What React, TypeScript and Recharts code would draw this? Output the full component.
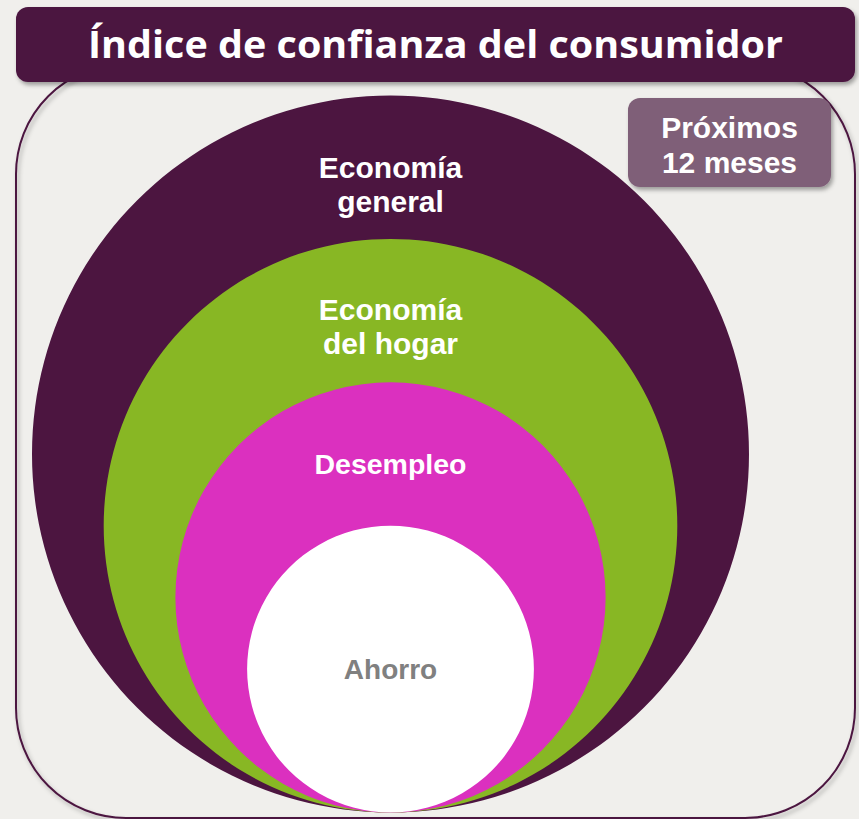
import { Pie, PieChart } from "recharts";

// nested circles, outermost first
const CIRCLE_NAMES = ["Economía general", "Economía del hogar", "Desempleo", "Ahorro"];
const CIRCLE_LINES = [["Economía", "general"], ["Economía", "del hogar"], ["Desempleo"], ["Ahorro"]];
// radius relative to the outer circle (%)
const CIRCLE_SIZES = [100, 80, 60, 40];

const TITLE = "Índice de confianza del consumidor";
const HORIZON_LINES = ["Próximos", "12 meses"];

const W = 859;
const H = 819;
const BG = "#f0efec";
const PURPLE = "#4c1540";
const FILLS = ["#4c1540", "#88b724", "#db30bf", "#ffffff"];
const TEXT_FILLS = ["#ffffff", "#ffffff", "#ffffff", "#808080"];
const FONT_SIZES = [30, 30, 28.5, 28];
// distance from circle top to first baseline; null = centred
const LABEL_TOP = [82, 81, 92, null];

const CX = 390.5;
const BOTTOM = 812.5;
const MAX_R = 358.5;
const LINE_GAP = 34;

function renderLabel(i: number, r: number, cy: number) {
  return () => {
    const lines = CIRCLE_LINES[i];
    const top = LABEL_TOP[i];
    const y0 = top == null ? cy + FONT_SIZES[i] * 0.36 : cy - r + top;
    return (
      <text
        textAnchor="middle"
        fill={TEXT_FILLS[i]}
        fontFamily="'Liberation Sans', Arial, sans-serif"
        fontWeight={700}
        fontSize={FONT_SIZES[i]}
      >
        {lines.map((line, k) => (
          <tspan key={line} x={CX} y={y0 + k * LINE_GAP}>
            {line}
          </tspan>
        ))}
      </text>
    );
  };
}

export default function App() {
  return (
    <div style={{ position: "absolute", left: 0, top: 0, width: W, height: H, background: BG, overflow: "hidden" }}>
      <svg width={W} height={H} style={{ position: "absolute", left: 0, top: 0 }}>
        <defs>
          <filter id="shadow" x="-10%" y="-10%" width="120%" height="130%">
            <feDropShadow dx="2" dy="3" stdDeviation="2" floodColor="#000" floodOpacity="0.3" />
          </filter>
        </defs>
        <rect x={16} y={64} width={839} height={754} rx={110} ry={110} fill="none" stroke={PURPLE} strokeWidth={2} filter="url(#shadow)" />
      </svg>

      <div style={{ position: "absolute", left: 0, top: 0 }}>
        <PieChart width={W} height={H} margin={{ top: 0, right: 0, bottom: 0, left: 0 }}>
          {CIRCLE_SIZES.map((size, i) => {
            const r = (size / 100) * MAX_R;
            const cy = BOTTOM - r;
            return (
              <Pie
                key={CIRCLE_NAMES[i]}
                data={[{ name: CIRCLE_NAMES[i], value: 1 }]}
                dataKey="value"
                nameKey="name"
                cx={CX}
                cy={cy}
                innerRadius={0}
                outerRadius={r}
                startAngle={90}
                endAngle={-270}
                fill={FILLS[i]}
                stroke="none"
                label={renderLabel(i, r, cy)}
                labelLine={false}
                isAnimationActive={false}
              />
            );
          })}
        </PieChart>
      </div>

      <svg width={W} height={H} style={{ position: "absolute", left: 0, top: 0, pointerEvents: "none" }}>
        <defs>
          <filter id="shadow2" x="-10%" y="-20%" width="120%" height="150%">
            <feDropShadow dx="2" dy="3" stdDeviation="2" floodColor="#000" floodOpacity="0.35" />
          </filter>
        </defs>
        <rect x={16} y={7} width={839} height={75} rx={12} fill={PURPLE} filter="url(#shadow2)" />
        <text
          x={435.5}
          y={58}
          textAnchor="middle"
          fill="#ffffff"
          fontFamily="'Open Sans', sans-serif"
          fontWeight={700}
          fontSize={37}
          textLength={695}
          lengthAdjust="spacingAndGlyphs"
        >
          {TITLE}
        </text>
        <rect x={628} y={98} width={203} height={89} rx={12} fill="#7f5f78" filter="url(#shadow2)" />
        <text
          textAnchor="middle"
          fill="#ffffff"
          fontFamily="'Liberation Sans', Arial, sans-serif"
          fontWeight={700}
          fontSize={30}
        >
          {HORIZON_LINES.map((line, k) => (
            <tspan key={line} x={729.5} y={138 + k * 35}>
              {line}
            </tspan>
          ))}
        </text>
      </svg>
    </div>
  );
}
